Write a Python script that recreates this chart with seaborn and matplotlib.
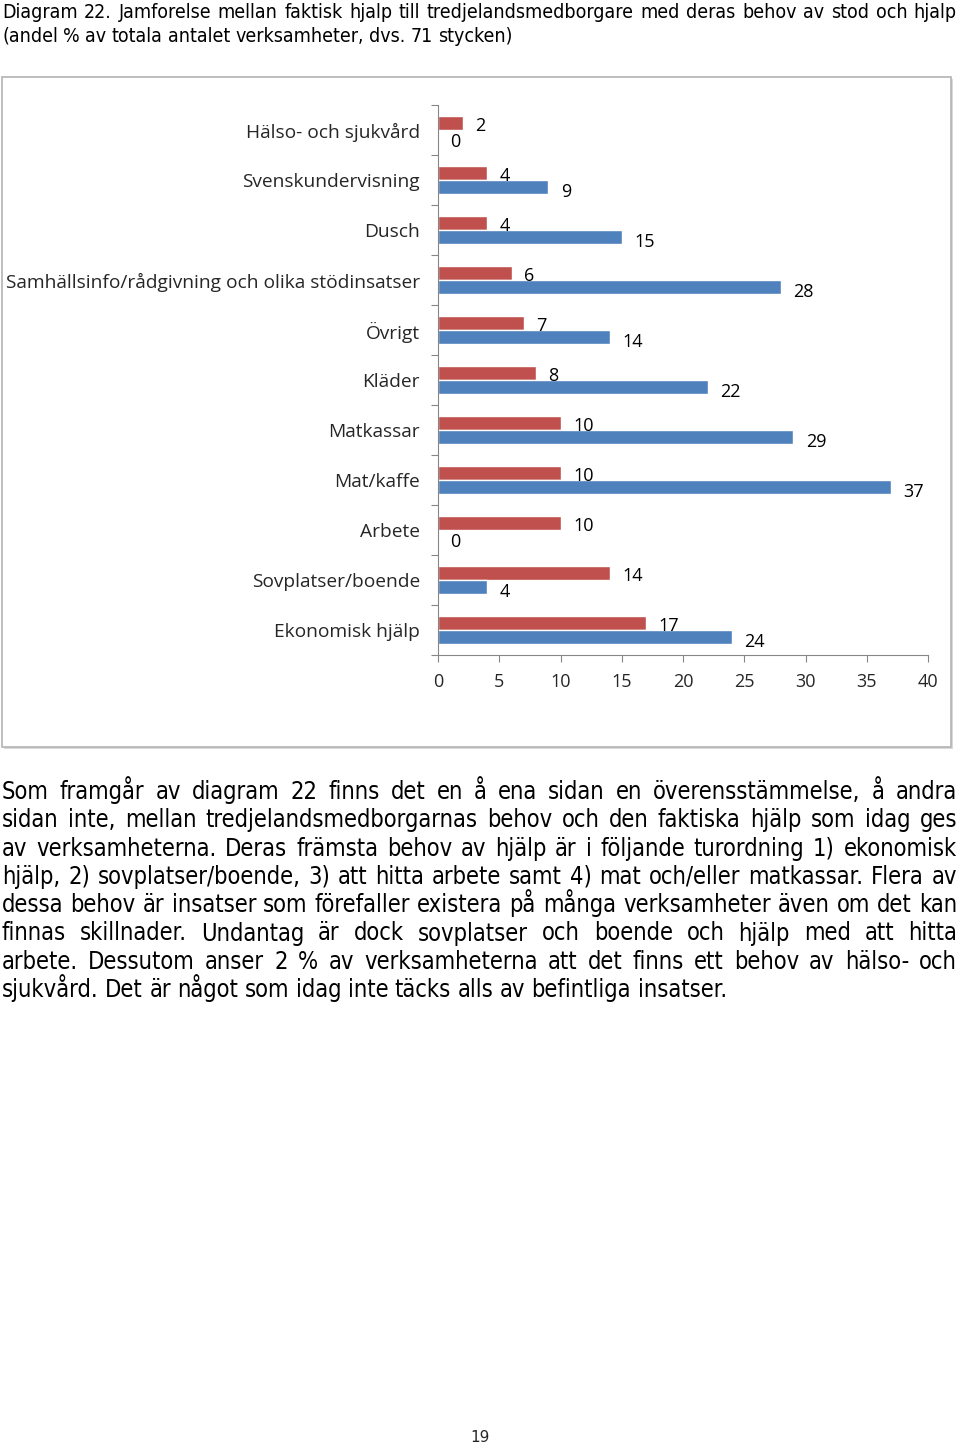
"""
Diagram 22 - faktisk hjälp vs behov bland verksamheter (andel %)
"""

import matplotlib
matplotlib.use('Agg')
import matplotlib.pyplot as plt
from matplotlib.patches import Rectangle
import pandas as pd
import seaborn as sns

# data
kategorier = ['Hälso- och sjukvård', 'Svenskundervisning', 'Dusch',
              'Samhällsinfo/rådgivning och olika stödinsatser', 'Övrigt',
              'Kläder', 'Matkassar', 'Mat/kaffe', 'Arbete',
              'Sovplatser/boende', 'Ekonomisk hjälp']
behov = [2, 4, 4, 6, 7, 8, 10, 10, 10, 14, 17]
faktisk = [0, 9, 15, 28, 14, 22, 29, 37, 0, 4, 24]
serier = ['Behov', 'Faktisk hjälp']
x_ticks = [0, 5, 10, 15, 20, 25, 30, 35, 40]

titel_rader = [
    'Diagram 22. Jamforelse mellan faktisk hjalp till tredjelandsmedborgare med deras behov av stod och hjalp',
    '(andel % av totala antalet verksamheter, dvs. 71 stycken)',
]
text_rader = [
    'Som framgår av diagram 22 finns det en å ena sidan en överensstämmelse, å andra',
    'sidan inte, mellan tredjelandsmedborgarnas behov och den faktiska hjälp som idag ges',
    'av verksamheterna. Deras främsta behov av hjälp är i följande turordning 1) ekonomisk',
    'hjälp, 2) sovplatser/boende, 3) att hitta arbete samt 4) mat och/eller matkassar. Flera av',
    'dessa behov är insatser som förefaller existera på många verksamheter även om det kan',
    'finnas skillnader. Undantag är dock sovplatser och boende och hjälp med att hitta',
    'arbete. Dessutom anser 2 % av verksamheterna att det finns ett behov av hälso- och',
    'sjukvård. Det är något som idag inte täcks alls av befintliga insatser.',
]
sidnummer = '19'

RED = '#C0504D'
BLUE = '#4F81BD'
W, H = 960, 1448
CHART_FONT = ['Open Sans', 'DejaVu Sans']
BODY_FONT = ['DejaVu Sans']


def justerad_rad(fig, renderer, rad, y_px, left_px, right_px, size, justify=True):
    """Skriv en rad ord för ord så att den fyller bredden (marginaljustering)."""
    ord_lista = rad.split(' ')
    texter = []
    bredder = []
    for o in ord_lista:
        t = fig.text(0, 1 - y_px / H, o, fontsize=size, family=BODY_FONT,
                     fontstretch='condensed', va='baseline', ha='left', color='black')
        bb = t.get_window_extent(renderer=renderer)
        texter.append(t)
        bredder.append(bb.width)
    total = sum(bredder)
    if justify and len(ord_lista) > 1:
        gap = (right_px - left_px - total) / (len(ord_lista) - 1)
    else:
        gap = size * 0.38
    x = left_px
    for t, b in zip(texter, bredder):
        t.set_x(x / W)
        x += b + gap


def main():
    sns.set_style('white')
    plt.rcParams['font.family'] = CHART_FONT

    df = pd.DataFrame({
        'kategori': kategorier * 2,
        'andel': behov + faktisk,
        'serie': [serier[0]] * len(kategorier) + [serier[1]] * len(kategorier),
    })

    fig = plt.figure(figsize=(W / 100, H / 100), dpi=100)
    fig.patch.set_facecolor('white')

    # ram runt diagrammet
    fig.patches.append(Rectangle((4 / W, 1 - 749 / H), 949 / W, 670 / H,
                                 transform=fig.transFigure, facecolor='#d9d9d9',
                                 edgecolor='none', zorder=-2))
    fig.patches.append(Rectangle((2 / W, 1 - 747 / H), 949 / W, 670 / H,
                                 transform=fig.transFigure, facecolor='white',
                                 edgecolor='#b3b3b3', lw=1.2, zorder=-1))

    ax = fig.add_axes([438 / W, 1 - 655 / H, 490 / W, 550 / H])
    ax.set_facecolor('none')
    sns.barplot(data=df, y='kategori', x='andel', hue='serie', order=kategorier,
                hue_order=serier, orient='h', palette=[RED, BLUE], width=0.55,
                saturation=1, legend=False, ax=ax)

    # värdeetiketter
    for cont, dy in zip(ax.containers, [-2, -4]):
        for bar in cont:
            v = bar.get_width()
            ax.annotate(f'{v:g}', (v, bar.get_y() + bar.get_height() / 2),
                        xytext=(9, dy), textcoords='offset points',
                        ha='left', va='center', fontsize=13, color='black')

    ax.set_xlim(0, 40)
    ax.set_ylim(len(kategorier) - 0.5, -0.5)
    ax.set_xticks(x_ticks)
    ax.set_xticklabels([str(t) for t in x_ticks], fontsize=13)
    ax.set_yticks(range(len(kategorier)))
    ax.set_yticklabels(kategorier, fontsize=13.8)
    ax.set_yticks([i - 0.5 for i in range(len(kategorier) + 1)], minor=True)
    ax.tick_params(axis='y', which='major', left=False, length=0, pad=13)
    ax.tick_params(axis='y', which='minor', left=True, length=5,
                   color='#868686', width=0.8)
    ax.tick_params(axis='x', which='major', bottom=True, length=5,
                   color='#868686', width=0.8, pad=8)
    ax.set_xlabel('')
    ax.set_ylabel('')
    for side in ['top', 'right']:
        ax.spines[side].set_visible(False)
    for side in ['left', 'bottom']:
        ax.spines[side].set_color('#868686')
        ax.spines[side].set_linewidth(0.8)

    fig.canvas.draw()
    renderer = fig.canvas.get_renderer()

    # rubrik
    justerad_rad(fig, renderer, titel_rader[0], 18, 2, 957, 14)
    justerad_rad(fig, renderer, titel_rader[1], 42, 2, 957, 14, justify=False)

    # brödtext
    for i, rad in enumerate(text_rader):
        justerad_rad(fig, renderer, rad, 799 + i * 28.3, 2, 957, 17,
                     justify=(i < len(text_rader) - 1))

    fig.text(480 / W, 1 - 1437 / H, sidnummer, fontsize=11, family=BODY_FONT,
             ha='center', va='center')

    fig.savefig('out.png', dpi=100)
    plt.close(fig)


if __name__ == '__main__':
    main()
